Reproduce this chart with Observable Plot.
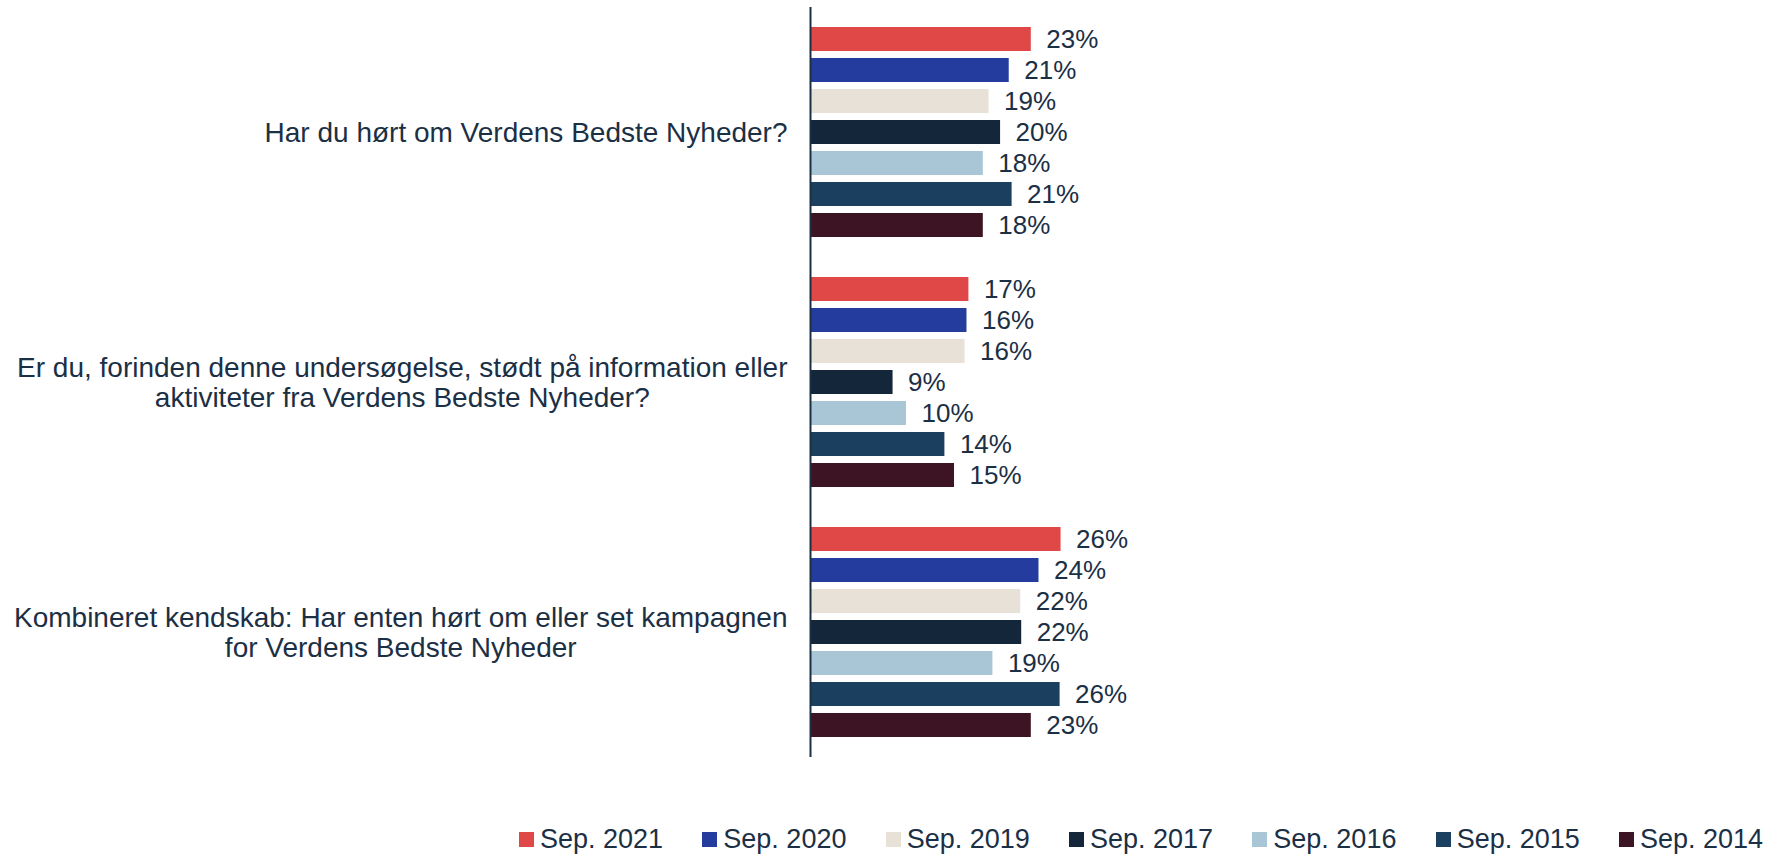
<!DOCTYPE html>
<html>
<head>
<meta charset="utf-8">
<script src="https://cdn.jsdelivr.net/npm/d3@7"></script>
<script src="https://cdn.jsdelivr.net/npm/@observablehq/plot@0.6"></script>
<style>
  html, body { margin: 0; padding: 0; background: #ffffff; overflow: hidden; }
  #chart { width: 1770px; }
  .lg-swatches { flex-wrap: nowrap !important; }
  .lg-swatches .lg-swatch { width: 183.33px; margin-right: 0 !important; flex: none; white-space: nowrap; }
  .lg-swatches .lg-swatch:last-child { width: auto; }
  .lg-swatches .lg-swatch svg { margin-right: 6px !important; }
</style>
</head>
<body>
<div id="chart"></div>
<script>
// ---- data ----
const questions = [
  "Har du hørt om Verdens Bedste Nyheder?",
  "Er du, forinden denne undersøgelse, stødt på information eller\naktiviteter fra Verdens Bedste Nyheder?",
  "Kombineret kendskab: Har enten hørt om eller set kampagnen\nfor Verdens Bedste Nyheder"
];
const series = ["Sep. 2021", "Sep. 2020", "Sep. 2019", "Sep. 2017", "Sep. 2016", "Sep. 2015", "Sep. 2014"];
const colors = ["#e04848", "#233c9e", "#e8e1d7", "#13263a", "#a8c6d6", "#1b3f5e", "#3d1424"];
// values per series, in question order
const sep2021 = [23.0, 16.5, 26.1];
const sep2020 = [20.7, 16.3, 23.8];
const sep2019 = [18.6, 16.1, 21.9];
const sep2017 = [19.8, 8.6, 22.0];
const sep2016 = [18.0, 10.0, 19.0];
const sep2015 = [21.0, 14.0, 26.0];
const sep2014 = [18.0, 15.0, 23.0];
const seriesValues = [sep2021, sep2020, sep2019, sep2017, sep2016, sep2015, sep2014];

const rows = [];
questions.forEach((q, qi) => {
  series.forEach((s, si) => rows.push({question: q, series: s, value: seriesValues[si][qi]}));
});

const fontFamily = "'Liberation Sans', Arial, Helvetica, sans-serif";
const textColor = "#1b2f45";
const labelSize = 28;

// measure label widths so wrapped lines are centred on each other, block right-aligned
const ctx = document.createElement("canvas").getContext("2d");
ctx.font = `${labelSize}px ${fontFamily}`;
const labelMarks = questions.map(q => {
  const w = d3.max(q.split("\n"), l => ctx.measureText(l).width);
  return Plot.text([q], {
    fy: d => d,
    frameAnchor: "left",
    text: d => d,
    textAnchor: "middle",
    dx: -(23 + w / 2),
    lineHeight: 1.06,
    fontSize: labelSize,
    fill: textColor
  });
});

const chart = Plot.plot({
  width: 1770,
  height: 770,
  marginTop: 7,
  marginBottom: 13,
  marginLeft: 810,
  marginRight: 672,
  x: {domain: [0, 30], axis: null},
  y: {domain: series, axis: null, paddingInner: 0.225, paddingOuter: 0.568},
  fy: {domain: questions, axis: null, padding: 0},
  color: {domain: series, range: colors},
  style: {fontFamily, background: "#ffffff", overflow: "visible"},
  marks: [
    Plot.barX(rows, {x: "value", y: "series", fy: "question", fill: "series"}),
    Plot.text(rows, {
      x: "value", y: "series", fy: "question",
      text: d => `${Math.round(d.value)}%`,
      textAnchor: "start", dx: 15, fontSize: 26, fill: textColor
    }),
    Plot.ruleX([0], {stroke: textColor, strokeWidth: 2}),
    ...labelMarks
  ]
});

const legend = Plot.legend({
  color: {domain: series, range: colors},
  legend: "swatches",
  swatchSize: 15,
  className: "lg",
  style: {
    fontFamily,
    fontSize: "27px",
    color: textColor,
    marginLeft: "519px",
    marginTop: "53px",
    minHeight: "33px"
  }
});

const root = document.getElementById("chart");
root.appendChild(chart);
root.appendChild(legend);
</script>
</body>
</html>
